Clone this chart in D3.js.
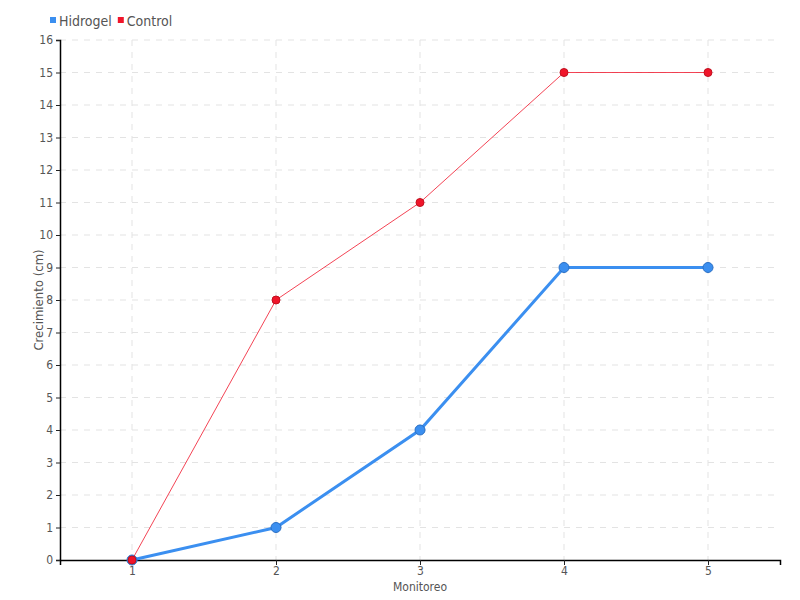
<!DOCTYPE html>
<html>
<head>
<meta charset="utf-8">
<script src="https://cdn.jsdelivr.net/npm/d3@7"></script>
<style>
  body { margin: 0; background: #fff; }
  text { font-family: "DejaVu Sans Condensed", "Liberation Sans Narrow", sans-serif; }
</style>
</head>
<body>
<svg id="chart" width="800" height="600"></svg>
<script>
const monitoreo = [1, 2, 3, 4, 5]
const hidrogel = [0, 1, 4, 9, 9]
const control = [0, 8, 11, 15, 15]
const yTicks = d3.range(0, 17)

const svg = d3.select("#chart")
const margin = {top: 40, right: 20, bottom: 40, left: 60}
const width = svg.attr("width") - margin.left - margin.right
const height = svg.attr("height") - margin.top - margin.bottom
const g = svg.append("g").attr("transform", "translate(" + margin.left + "," + margin.top + ")")

const x = d3.scaleLinear().domain([0.5, 5.5]).range([0, width])
const y = d3.scaleLinear().domain([0, 16]).range([height, 0])

// grid
g.append("g").selectAll("line").data(yTicks.slice(1)).enter().append("line")
    .attr("x1", 0).attr("x2", width)
    .attr("y1", d => y(d)).attr("y2", d => y(d))
    .attr("stroke", "#e3e3e3").attr("stroke-dasharray", "6,6")
g.append("g").selectAll("line").data(monitoreo).enter().append("line")
    .attr("x1", d => x(d)).attr("x2", d => x(d))
    .attr("y1", 0).attr("y2", height)
    .attr("stroke", "#e3e3e3").attr("stroke-dasharray", "6,6")

// axes
const xAxis = g.append("g")
    .attr("transform", "translate(0," + height + ")")
    .call(d3.axisBottom(x).tickValues(monitoreo).tickFormat(d3.format("d")).tickSizeOuter(0).tickSize(5))
const yAxis = g.append("g")
    .call(d3.axisLeft(y).tickValues(yTicks).tickSizeOuter(0).tickSize(4))

;[xAxis, yAxis].forEach(a => {
    a.select(".domain").attr("stroke", "#000").attr("stroke-width", 1.5)
    a.selectAll(".tick line").attr("stroke", "#222")
    a.selectAll(".tick text").attr("fill", "#555").style("font-size", "12px")
})
xAxis.selectAll(".tick text").attr("dy", "0.6em")

svg.append("text")
    .attr("x", margin.left + width / 2)
    .attr("y", 591)
    .attr("text-anchor", "middle")
    .attr("fill", "#555")
    .style("font-size", "12px")
    .text("Monitoreo")

svg.append("text")
    .attr("transform", "translate(43," + (margin.top + height / 2) + ") rotate(-90)")
    .attr("text-anchor", "middle")
    .attr("fill", "#555")
    .style("font-size", "13px")
    .text("Crecimiento (cm)")

const series = [
    {id: "Hidrogel", values: hidrogel, color: "#3b8ff0", stroke: "#2a6fc4", width: 3, r: 5, op: 1},
    {id: "Control", values: control, color: "#f0152a", stroke: "#c0101f", width: 1, r: 4, op: 0.8}
]

const line = d3.line()
    .x(d => x(d.xValue))
    .y(d => y(d.yValue))

series.forEach(s => {
    const pts = monitoreo.map((m, i) => ({xValue: m, yValue: s.values[i]}))
    g.append("path")
        .attr("d", line(pts))
        .attr("fill", "none")
        .attr("stroke", s.color)
        .attr("stroke-opacity", s.op)
        .attr("stroke-width", s.width)
    g.selectAll(".pt-" + s.id).data(pts).enter().append("circle")
        .attr("cx", d => x(d.xValue))
        .attr("cy", d => y(d.yValue))
        .attr("r", s.r)
        .attr("fill", s.color)
        .attr("stroke", s.stroke)
        .attr("stroke-width", 1)
})

// legend
const legend = svg.append("g").attr("transform", "translate(50,22)")
let lx = 0
series.forEach(s => {
    const item = legend.append("g").attr("transform", "translate(" + lx + ",0)")
    item.append("rect").attr("x", 0).attr("y", -5).attr("width", 6).attr("height", 6).attr("fill", s.color)
    const t = item.append("text").attr("x", 9).attr("y", 4)
        .attr("fill", "#555").style("font-size", "14px").text(s.id)
    lx += 9 + t.node().getComputedTextLength() + 6
})
</script>
</body>
</html>
